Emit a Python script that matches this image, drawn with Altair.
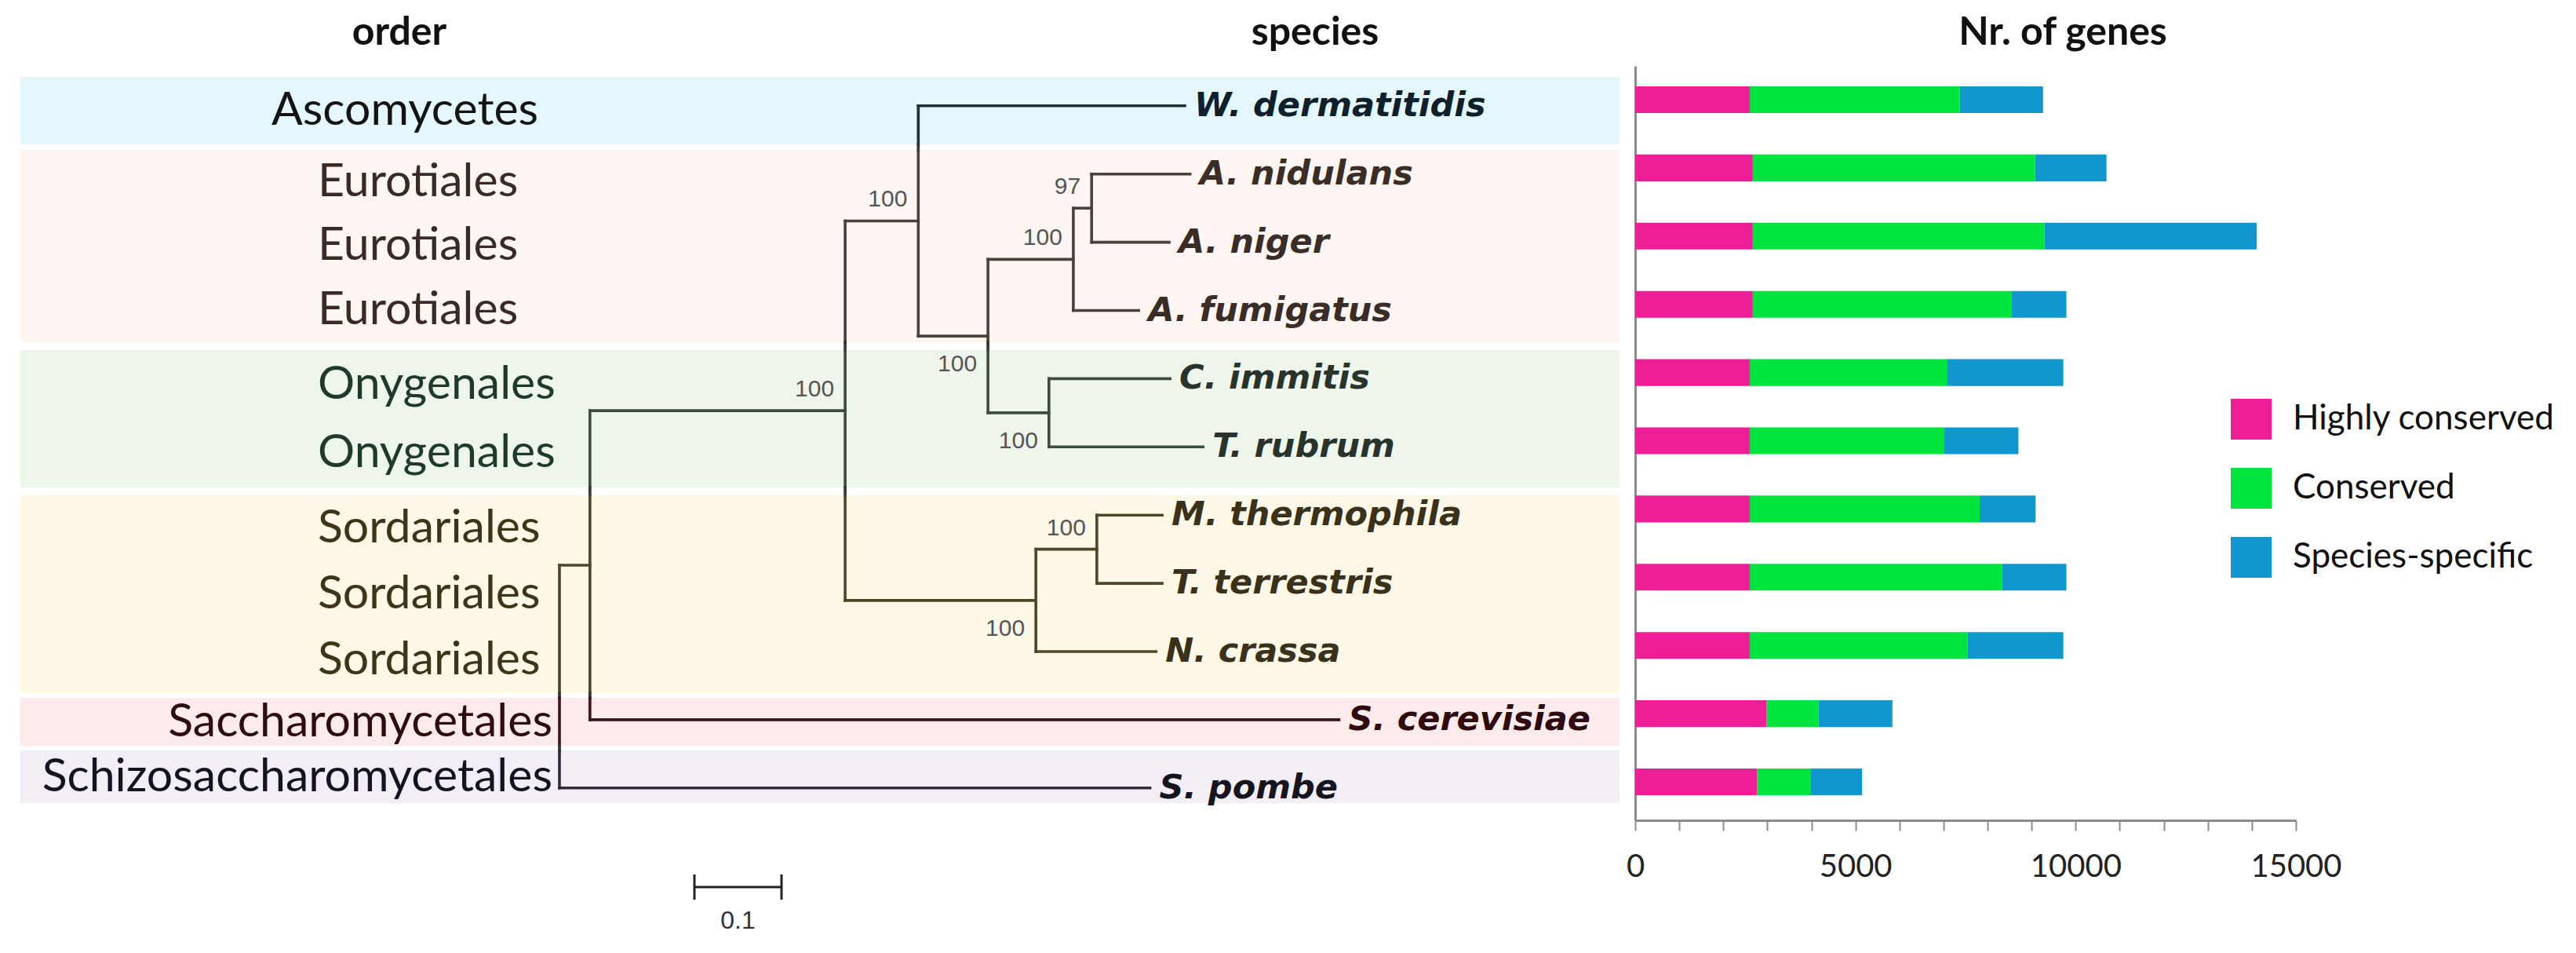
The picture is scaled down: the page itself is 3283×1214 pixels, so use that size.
import altair as alt
import pandas as pd

# ---------------- data ----------------
species = ["W. dermatitidis", "A. nidulans", "A. niger", "A. fumigatus", "C. immitis",
           "T. rubrum", "M. thermophila", "T. terrestris", "N. crassa",
           "S. cerevisiae", "S. pombe"]
orders = ["Ascomycetes", "Eurotiales", "Eurotiales", "Eurotiales", "Onygenales",
          "Onygenales", "Sordariales", "Sordariales", "Sordariales",
          "Saccharomycetales", "Schizosaccharomycetales"]

gene_categories = ["Highly conserved", "Conserved", "Species-specific"]
highly_conserved = [2600, 2670, 2670, 2670, 2600, 2600, 2600, 2600, 2600, 2980, 2770]
conserved = [4770, 6410, 6620, 5880, 4490, 4420, 5220, 5730, 4950, 1180, 1220]
species_specific = [1890, 1620, 4820, 1240, 2630, 1680, 1270, 1460, 2170, 1680, 1160]
axis_ticks = list(range(0, 15001, 1000))
axis_labels = [0, 5000, 10000, 15000]

# tree: distance from root of every leaf (same order as species) and internal node
leaf_depth = [0.718, 0.724, 0.700, 0.665, 0.701, 0.739, 0.692, 0.692, 0.685, 0.895, 0.678]
node_names = ["n6", "n5", "n8", "n4", "n3", "n9", "n7", "n2", "n1", "root"]
node_first = ["A. nidulans", "n6", "C. immitis", "n5", "W. dermatitidis",
              "M. thermophila", "n9", "n3", "n2", "n1"]
node_last = ["A. niger", "A. fumigatus", "T. rubrum", "n8", "n4",
             "T. terrestris", "N. crassa", "n7", "S. cerevisiae", "S. pombe"]
node_depth = [0.611, 0.590, 0.562, 0.492, 0.412, 0.617, 0.547, 0.328, 0.035, 0.0]
node_support = ["97", "100", "100", "100", "100", "100", "100", "100", "", ""]
scale_bar_length = 0.1
scale_bar_label = ["0.1"]

band_names = ["Ascomycetes", "Eurotiales", "Onygenales", "Sordariales",
              "Saccharomycetales", "Schizosaccharomycetales"]
band_top = [-0.334, 0.736, 3.671, 5.800, 8.769, 9.540]
band_bottom = [0.656, 3.556, 5.685, 8.700, 9.471, 10.311]

# ---------------- styles / layout ----------------
band_fill = ["#E4F7FC", "#FDF6F2", "#EEF5EA", "#FEF9E7", "#FDEAEA", "#F3EEF6"]
band_line = ["#1E2F3A", "#4B403B", "#3D4B40", "#4F4529", "#3C1519", "#302A3B"]
band_text = ["#0F1F2C", "#3A2C27", "#27332B", "#39311B", "#2F0B0F", "#16151F"]
order_color = ["#141414", "#3A2A24", "#1F3A2B", "#3E3419", "#2E0B0D", "#131322"]
order_align = ["center", "left", "left", "left", "right", "right"]
order_anchor_px = [508, 397, 397, 397, 696, 696]          # panel px
support_side = ["above", "above", "below", "below", "above", "above", "below", "above", "", ""]
bar_colors = ["#EE1E96", "#00E33F", "#1196CD"]
GAP_LINE = "#333333"

ROOT_PX = 705          # panel x of the tree root
PX_PER_UNIT = 1110     # 0.1 substitutions/site = 111 px
LEFT_W = 2064
BAR_W = 842
PANEL_H = 1037
ROW0_PX = 119
ROW_PX = 86.9
TREE_DY = 0.09
AXIS_TOP = 76
BAND_X0, BAND_X1 = 18, 2056

X_TREE = alt.Scale(domain=[-ROOT_PX / PX_PER_UNIT, (LEFT_W - ROOT_PX) / PX_PER_UNIT],
                   range=[0, LEFT_W], nice=False, zero=False)
Y_LEFT = alt.Scale(domain=[-ROW0_PX / ROW_PX, (PANEL_H - ROW0_PX) / ROW_PX],
                   range=[0, PANEL_H], nice=False, zero=False)
Y_RIGHT = alt.Scale(domain=[(AXIS_TOP - ROW0_PX) / ROW_PX, (PANEL_H - ROW0_PX) / ROW_PX],
                    range=[AXIS_TOP, PANEL_H], nice=False, zero=False)


def px_to_tree(px):
    return (px - ROOT_PX) / PX_PER_UNIT


def band_index(y):
    for i, (t, b) in enumerate(zip(band_top, band_bottom)):
        if t <= y <= b:
            return i
    return None


def line_color(y):
    i = band_index(y)
    return GAP_LINE if i is None else band_line[i]


# ---------------- tree geometry ----------------
ypos = {s: i + TREE_DY for i, s in enumerate(species)}
xpos = {s: d for s, d in zip(species, leaf_depth)}
parent = {}
for n, a, b, d in zip(node_names, node_first, node_last, node_depth):
    ypos[n] = (ypos[a] + ypos[b]) / 2
    xpos[n] = d
    parent[a] = n
    parent[b] = n

segs = []
for name, p in parent.items():
    y = ypos[name]
    segs.append(dict(x=xpos[p], x2=xpos[name], y=y, y2=y, col=line_color(y)))
for n, a, b in zip(node_names, node_first, node_last):
    ya, yb = ypos[a], ypos[b]
    cuts = sorted(set([ya, yb] + [e for e in band_top + band_bottom if ya < e < yb]))
    for c0, c1 in zip(cuts[:-1], cuts[1:]):
        segs.append(dict(x=xpos[n], x2=xpos[n], y=c0, y2=c1, col=line_color((c0 + c1) / 2)))
seg_df = pd.DataFrame(segs)

leaf_df = pd.DataFrame({
    "name": species, "x": leaf_depth, "y": [ypos[s] for s in species],
    "col": [band_text[band_names.index(o)] for o in orders],
})

sup_df = pd.DataFrame({
    "label": node_support, "x": node_depth, "y": [ypos[n] for n in node_names],
    "side": support_side,
})
sup_df = sup_df[sup_df["label"] != ""]

band_df = pd.DataFrame({"band": band_names, "y0": band_top, "y1": band_bottom, "fill": band_fill})

ord_rows = []
for bi, bname in enumerate(band_names):
    n = orders.count(bname)
    step = (band_bottom[bi] - band_top[bi]) / n
    for k in range(n):
        ord_rows.append(dict(label=bname, y=band_top[bi] + (k + 0.5) * step,
                             x=px_to_tree(order_anchor_px[bi]), align=order_align[bi],
                             col=order_color[bi]))
ord_df = pd.DataFrame(ord_rows)

sb_x0 = px_to_tree(877)
sb_y = (1122 - ROW0_PX) / ROW_PX
sb_h = 0.185
sb_df = pd.DataFrame({"x": [sb_x0], "x2": [sb_x0 + scale_bar_length], "y": [sb_y]})
sb_caps = pd.DataFrame({"x": [sb_x0, sb_x0 + scale_bar_length],
                        "y": [sb_y - sb_h] * 2, "y2": [sb_y + sb_h] * 2})
sb_lab = pd.DataFrame({"label": scale_bar_label, "x": [sb_x0 + scale_bar_length / 2], "y": [sb_y]})

# ---------------- left panel: order labels, bands, tree ----------------
X = lambda f: alt.X(f, scale=X_TREE, axis=None)
Y = lambda f: alt.Y(f, scale=Y_LEFT, axis=None)

bands = alt.Chart(band_df).mark_rect().encode(
    x=alt.value(BAND_X0), x2=alt.value(BAND_X1),
    y=Y("y0:Q"), y2="y1:Q", color=alt.Color("fill:N", scale=None))

tree = alt.Chart(seg_df).mark_rule(strokeWidth=3.6, strokeCap="square").encode(
    x=X("x:Q"), x2="x2:Q", y=Y("y:Q"), y2="y2:Q", color=alt.Color("col:N", scale=None))

leaves = alt.Chart(leaf_df).mark_text(
    align="left", baseline="middle", dx=12, font="DejaVu Sans", fontSize=43,
    fontWeight="bold", fontStyle="italic").encode(
    x=X("x:Q"), y=Y("y:Q"), text="name:N", color=alt.Color("col:N", scale=None))

sup_above = alt.Chart(sup_df[sup_df["side"] == "above"]).mark_text(
    align="right", baseline="middle", dx=-14, dy=-27, font="Liberation Sans",
    fontSize=30, color="#555555").encode(x=X("x:Q"), y=Y("y:Q"), text="label:N")
sup_below = alt.Chart(sup_df[sup_df["side"] == "below"]).mark_text(
    align="right", baseline="middle", dx=-14, dy=36, font="Liberation Sans",
    fontSize=30, color="#555555").encode(x=X("x:Q"), y=Y("y:Q"), text="label:N")

order_layers = []
for al in ["left", "center", "right"]:
    sub = ord_df[ord_df["align"] == al]
    order_layers.append(alt.Chart(sub).mark_text(
        align=al, baseline="middle", font="Lato", fontSize=59).encode(
        x=X("x:Q"), y=Y("y:Q"), text="label:N", color=alt.Color("col:N", scale=None)))

title_order = alt.Chart(pd.DataFrame({"t": ["order"]})).mark_text(
    font="Lato", fontWeight="bold", fontSize=50, color="#111111", baseline="middle").encode(
    text="t:N", x=alt.value(501), y=alt.value(34))
title_species = alt.Chart(pd.DataFrame({"t": ["species"]})).mark_text(
    font="Lato", fontWeight="bold", fontSize=50, color="#111111", baseline="middle").encode(
    text="t:N", x=alt.value(1668), y=alt.value(34))

sb_rule = alt.Chart(sb_df).mark_rule(strokeWidth=3, color="#222222").encode(
    x=X("x:Q"), x2="x2:Q", y=Y("y:Q"))
sb_cap = alt.Chart(sb_caps).mark_rule(strokeWidth=3, color="#222222").encode(
    x=X("x:Q"), y=Y("y:Q"), y2="y2:Q")
sb_text = alt.Chart(sb_lab).mark_text(
    font="Liberation Sans", fontSize=32, color="#333333", baseline="middle", dy=43).encode(
    x=X("x:Q"), y=Y("y:Q"), text="label:N")

left = alt.layer(bands, tree, sup_above, sup_below, leaves, *order_layers,
                 title_order, title_species, sb_rule, sb_cap, sb_text).properties(
    width=LEFT_W, height=PANEL_H)

# ---------------- right panel: stacked bars ----------------
bar_rows = []
for i, s in enumerate(species):
    for k, (cat, vals) in enumerate(zip(gene_categories,
                                         [highly_conserved, conserved, species_specific])):
        bar_rows.append(dict(species=s, row=i, category=cat, k=k, value=vals[i]))
bar_df = pd.DataFrame(bar_rows)

half = 0.196
bars = alt.Chart(bar_df).transform_stack(
    stack="value", groupby=["species"], as_=["v0", "v1"],
    sort=[alt.SortField("k", order="ascending")]
).transform_calculate(
    r0=f"datum.row - {half}", r1=f"datum.row + {half}"
).mark_rect().encode(
    x=alt.X("v0:Q", scale=alt.Scale(domain=[0, 15000], nice=False, zero=True),
            axis=alt.Axis(values=axis_ticks, title=None, grid=False, format="d",
                          labelExpr="indexof(" + str(axis_labels) + ", datum.value) >= 0 ? datum.label : ''",
                          domainColor="#8C8C8C", domainWidth=3, tickColor="#8C8C8C",
                          tickWidth=2, tickSize=13, labelFont="Lato", labelFontSize=40,
                          labelColor="#222222", labelPadding=26, labelFlush=False,
                          labelOverlap=False)),
    x2="v1:Q",
    y=alt.Y("r0:Q", scale=Y_RIGHT,
            axis=alt.Axis(labels=False, ticks=False, title=None, grid=False,
                          domainColor="#8C8C8C", domainWidth=3)),
    y2="r1:Q",
    color=alt.Color("category:N", sort=gene_categories,
                    scale=alt.Scale(domain=gene_categories, range=bar_colors),
                    legend=alt.Legend(orient="none", legendX=759, legendY=500, title=None,
                                      symbolType="square", symbolSize=2704,
                                      symbolStrokeWidth=0, labelFont="Lato",
                                      labelFontSize=44, labelColor="#111111",
                                      rowPadding=36, labelOffset=27, labelLimit=600)),
)

title_genes = alt.Chart(pd.DataFrame({"t": ["Nr. of genes"]})).mark_text(
    font="Lato", fontWeight="bold", fontSize=50, color="#111111", baseline="middle").encode(
    text="t:N", x=alt.value(545), y=alt.value(34))

right = alt.layer(bars, title_genes).properties(width=BAR_W, height=PANEL_H)

chart = alt.hconcat(left, right, spacing=0).properties(padding=0).configure_view(
    stroke=None).resolve_scale(x="independent", y="independent", color="independent")

chart.save("out.html", embed_options={"renderer": "svg", "actions": False})
